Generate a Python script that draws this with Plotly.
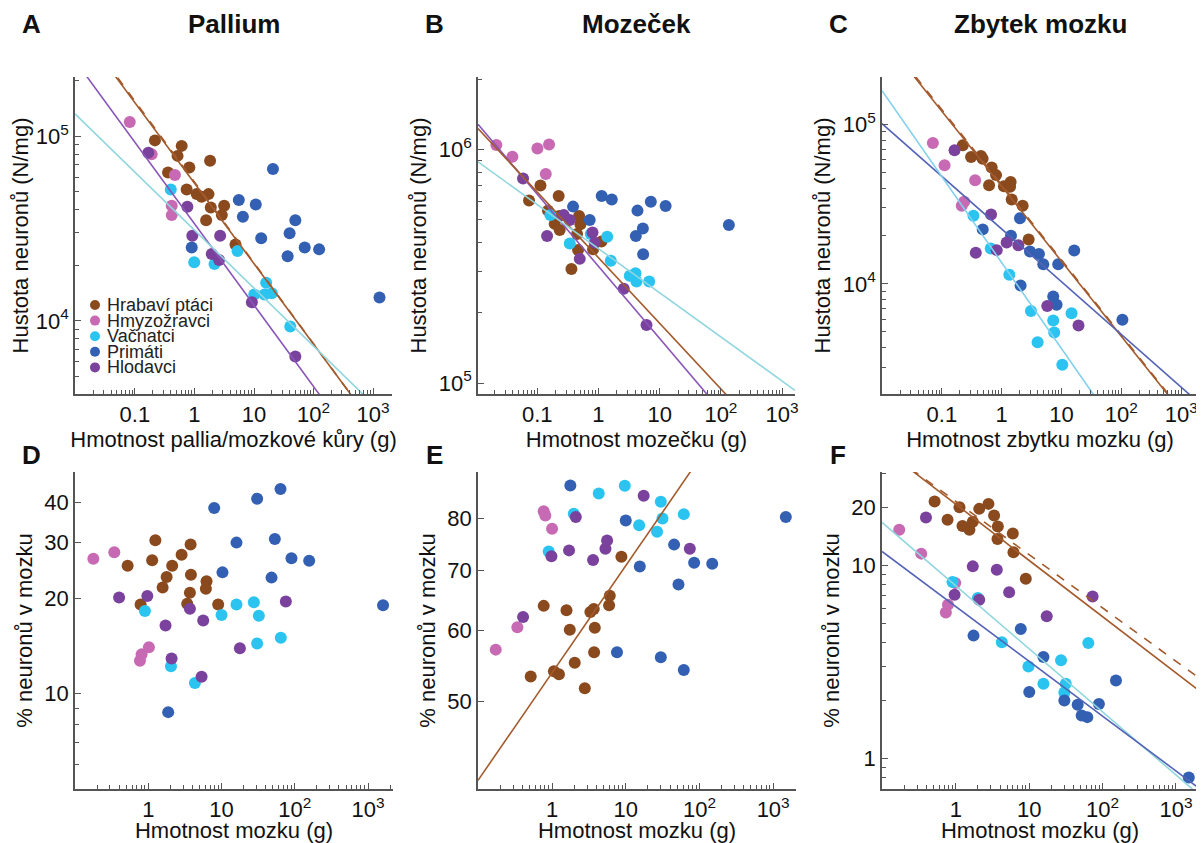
import plotly.graph_objects as go

# The page adds an 8px body margin, so the figure is drawn 8px smaller and all
# reference pixel positions are shifted by that offset.
PAGE_W, PAGE_H, OFFSET = 1204, 843, 8
W, H = PAGE_W - OFFSET, PAGE_H - OFFSET
FONT = "Liberation Sans, Arial, sans-serif"
INK = "#111111"
AXIS = "#555555"

GROUPS = ["Hrabaví ptáci", "Hmyzožravci", "Vačnatci", "Primáti", "Hlodavci"]
DOT = {
    "Hrabaví ptáci": "#8a4a1e",
    "Hmyzožravci": "#c76ab3",
    "Vačnatci": "#2bc4f0",
    "Primáti": "#3360b2",
    "Hlodavci": "#7a429c",
}
FIT_COLOR = {
    "Hrabaví ptáci": "#a35a2c",
    "Hlodavci": "#8a55b8",
    "Vačnatci": "#8fd6de",
    "Vačnatci C": "#82d0ee",
    "Primáti": "#5463b6",
}

# ---- A: pallium mass (g) vs neuron density (N/mg)
A_GALLI_X = [0.217, 0.61, 0.52, 0.82, 1.83, 0.36, 0.74, 1.09, 1.32, 1.72, 1.88, 3.15, 2.88, 1.57, 4.89]
A_GALLI_Y = [95000, 88700, 78300, 67800, 73600, 63700, 51500, 48600, 47000, 48600, 41100, 42000, 37400, 35100, 25900]
A_INSECT_X = [0.082, 0.191, 0.47, 0.415, 0.415]
A_INSECT_Y = [119500, 80000, 61600, 42000, 37400]
A_MARSUP_X = [0.40, 5.28, 0.99, 2.17, 16.0, 10.1, 15.0, 19.9, 40.6]
A_MARSUP_Y = [51500, 23900, 20800, 20300, 16100, 13900, 13900, 14100, 9320]
A_PRIM_X = [20.8, 5.56, 10.7, 6.5, 49.4, 39.6, 13.2, 71, 124, 36.7, 0.90, 1280]
A_PRIM_Y = [66400, 45100, 42700, 36600, 35100, 29800, 28000, 25000, 24400, 22400, 25000, 13400]
A_ROD_X = [0.168, 0.76, 0.92, 2.70, 1.95, 2.59, 9.2, 49.4]
A_ROD_Y = [81300, 41500, 28900, 28900, 23000, 21400, 12600, 6410]
# power-law fits: (group, coefficient, exponent, dashed)
A_FITS = [("Hrabaví ptáci", 56500, -0.438, True), ("Hrabaví ptáci", 55700, -0.436, False),
          ("Hlodavci", 33600, -0.441, False), ("Vačnatci", 31000, -0.314, False)]

# ---- B: cerebellum
B_GALLI_X = [0.0735, 0.113, 0.224, 0.150, 0.193, 0.233, 0.228, 0.483, 0.508, 0.448, 0.465, 0.362, 0.818, 1.12]
B_GALLI_Y = [604e3, 700e3, 632e3, 547e3, 480e3, 452e3, 519e3, 519e3, 478e3, 434e3, 371e3, 308e3, 374e3, 403e3]
B_INSECT_X = [0.0215, 0.0393, 0.1007, 0.156, 0.138]
B_INSECT_Y = [1.044e6, 0.931e6, 1.01e6, 1.05e6, 0.785e6]
B_MARSUP_X = [0.164, 0.34, 0.75, 1.39, 1.59, 3.25, 4.03, 4.18, 6.74]
B_MARSUP_Y = [524e3, 396e3, 434e3, 423e3, 334e3, 288e3, 295e3, 272e3, 272e3]
B_PRIM_X = [0.385, 0.72, 1.13, 1.65, 7.17, 12.5, 4.34, 5.31, 4.08, 5.37, 135]
B_PRIM_Y = [569e3, 499e3, 632e3, 611e3, 597e3, 572e3, 547e3, 459e3, 426e3, 356e3, 475e3]
B_ROD_X = [0.0587, 0.271, 0.340, 0.145, 0.495, 0.80, 0.87, 2.59, 6.1]
B_ROD_Y = [751e3, 524e3, 499e3, 426e3, 340e3, 441e3, 399e3, 253e3, 177e3]
B_FITS = [("Hlodavci", 316000, -0.309, False), ("Hrabaví ptáci", 344000, -0.281, False),
          ("Vačnatci", 376000, -0.189, False)]

# ---- C: rest of brain
C_GALLI_X = [0.224, 0.308, 0.45, 0.48, 0.68, 0.805, 0.615, 1.09, 1.41, 1.38, 1.47, 2.24, 2.82]
C_GALLI_Y = [74300, 62700, 63500, 61000, 53800, 48200, 41700, 41100, 43700, 40700, 33900, 31000, 19000]
C_INSECT_X = [0.0708, 0.111, 0.36, 0.236, 0.215]
C_INSECT_Y = [76800, 55600, 44800, 32800, 31000]
C_MARSUP_X = [0.337, 0.656, 1.34, 3.08, 7.26, 7.55, 14.7, 3.98, 10.3]
C_MARSUP_Y = [26800, 16700, 11400, 6770, 5890, 4950, 6540, 4300, 3110]
C_PRIM_X = [0.482, 2.02, 1.43, 2.97, 4.19, 4.95, 8.8, 16.3, 2.07, 7.26, 8.26, 104]
C_PRIM_Y = [22000, 25800, 20100, 16000, 15400, 13300, 13300, 16200, 9770, 8340, 7390, 5960]
C_ROD_X = [0.163, 0.664, 0.369, 0.826, 1.21, 1.90, 5.77, 19.2]
C_ROD_Y = [69000, 27300, 15700, 16300, 18200, 17500, 7280, 5480]
C_FITS = [("Hrabaví ptáci", 41900, -0.472, True), ("Hrabaví ptáci", 41000, -0.471, False),
          ("Primáti", 22100, -0.331, False), ("Vačnatci C", 13600, -0.540, False)]

# ---- D: brain mass vs % neurons in pallium
D_GALLI_X = [0.523, 1.13, 1.25, 2.12, 2.85, 3.78, 1.78, 1.57, 3.82, 3.70, 6.24, 6.11, 0.786, 3.4, 9.0]
D_GALLI_Y = [25.3, 26.3, 30.4, 25.3, 27.4, 29.5, 23.3, 21.6, 23.7, 20.8, 22.6, 21.4, 19.1, 19.2, 19.1]
D_INSECT_X = [0.178, 0.344, 1.02, 0.811, 0.77]
D_INSECT_Y = [26.6, 27.9, 14.0, 13.3, 12.7]
D_MARSUP_X = [0.90, 2.04, 4.33, 10, 16.0, 27.6, 32.3, 30.6, 64.4]
D_MARSUP_Y = [18.2, 12.2, 10.8, 17.7, 19.1, 19.4, 17.6, 14.4, 15.0]
D_PRIM_X = [7.94, 30.6, 63.8, 16.0, 53.4, 90, 157, 10.3, 48.1, 1.87, 1600]
D_PRIM_Y = [38.4, 41.1, 44.1, 29.9, 30.7, 26.7, 26.2, 24.1, 23.2, 8.75, 19.0]
D_ROD_X = [0.40, 0.97, 3.7, 1.72, 5.62, 2.08, 5.34, 17.8, 75.4]
D_ROD_Y = [20.1, 20.3, 18.5, 16.4, 17.0, 12.9, 11.3, 13.9, 19.5]
D_FITS = []

# ---- E: brain mass vs % neurons in cerebellum
E_GALLI_X = [0.77, 1.57, 1.74, 3.31, 3.68, 3.8, 6.07, 5.94, 8.73, 3.72, 2.03, 1.06, 1.24, 0.513, 2.78]
E_GALLI_Y = [63.9, 63.2, 60.1, 62.9, 63.4, 60.4, 65.6, 64.0, 72.5, 56.7, 55.2, 54.0, 53.6, 53.3, 51.7]
E_INSECT_X = [0.172, 0.338, 0.77, 0.81, 1.0]
E_INSECT_Y = [57.1, 60.5, 81.5, 80.6, 77.9]
E_MARSUP_X = [0.90, 1.97, 4.3, 9.7, 15.2, 26.6, 29.9, 31.5, 61.3]
E_MARSUP_Y = [73.5, 81.0, 85.3, 87.0, 78.6, 77.3, 83.5, 80.0, 80.9]
E_PRIM_X = [1.77, 10.0, 15.5, 45.3, 84.7, 149, 51.9, 7.6, 29.9, 61.3, 1486]
E_PRIM_Y = [87.1, 79.6, 70.7, 74.8, 71.4, 71.2, 67.5, 56.7, 56.0, 54.2, 80.3]
E_ROD_X = [0.404, 0.98, 1.70, 2.10, 3.6, 5.3, 5.58, 17.5, 74]
E_ROD_Y = [62.1, 72.6, 73.7, 80.3, 71.9, 74.0, 75.6, 84.8, 74.0]
E_FITS = [("Hrabaví ptáci", 53.8, 0.1196, False)]

# ---- F: brain mass vs % neurons in rest of brain
F_GALLI_X = [0.513, 0.77, 1.12, 1.23, 1.53, 1.70, 2.08, 2.78, 3.32, 3.73, 3.69, 5.97, 6.09, 8.97]
F_GALLI_Y = [21.4, 17.2, 20.0, 16.0, 15.3, 16.8, 19.6, 20.8, 18.1, 15.9, 13.7, 14.6, 11.7, 8.53]
F_INSECT_X = [0.169, 0.337, 0.98, 0.73, 0.78]
F_INSECT_Y = [15.3, 11.5, 8.11, 5.71, 6.26]
F_MARSUP_X = [0.90, 1.99, 4.23, 9.75, 15.6, 27.1, 31.4, 30.1, 63.8]
F_MARSUP_Y = [8.20, 6.78, 4.00, 3.00, 2.44, 3.23, 2.44, 2.20, 3.97]
F_PRIM_X = [1.74, 7.66, 15.6, 10.0, 30.1, 45.7, 51.8, 61.8, 89, 152, 1495]
F_PRIM_Y = [4.33, 4.69, 3.36, 2.21, 2.00, 1.90, 1.67, 1.64, 1.92, 2.54, 0.80]
F_ROD_X = [0.391, 1.70, 3.61, 0.96, 2.08, 5.32, 17.3, 73]
F_ROD_Y = [17.7, 9.88, 9.50, 7.05, 6.64, 7.25, 5.45, 6.91]
F_FITS = [("Hrabaví ptáci", 21.4, -0.2755, True), ("Hrabaví ptáci", 20.7, -0.291, False),
          ("Vačnatci", 7.83, -0.326, False), ("Primáti", 6.12, -0.2835, False)]

X_TOP_VALS = [0.1, 1, 10, 100, 1000]
X_TOP_TEXT = ["0.1", "1", "10", "10<sup>2</sup>", "10<sup>3</sup>"]
X_BOT_VALS = [1, 10, 100, 1000]
X_BOT_TEXT = ["1", "10", "10<sup>2</sup>", "10<sup>3</sup>"]

DECADE_MINORS = [m * 10.0 ** e for e in range(-3, 7) for m in range(2, 10)]


def fx(px):
    return (px - OFFSET) / W


def fy(py):
    return 1 - (py - OFFSET) / H


PANELS = [
    dict(letter="A", title="Pallium", dom=(75, 392, 77, 394), xr=(-2.006, 3.317), yr=(3.604, 5.321),
         xt=(X_TOP_VALS, X_TOP_TEXT), yt=([1e4, 1e5], ["10<sup>4</sup>", "10<sup>5</sup>"]),
         yminor=DECADE_MINORS, xtitle="Hmotnost pallia/mozkové kůry (g)", ytitle="Hustota neuronů (N/mg)",
         data=[(A_GALLI_X, A_GALLI_Y), (A_INSECT_X, A_INSECT_Y), (A_MARSUP_X, A_MARSUP_Y),
               (A_PRIM_X, A_PRIM_Y), (A_ROD_X, A_ROD_Y)], fits=A_FITS),
    dict(letter="B", title="Mozeček", dom=(478, 795, 77, 394), xr=(-1.967, 3.21), yr=(4.953, 6.31),
         xt=(X_TOP_VALS, X_TOP_TEXT), yt=([1e5, 1e6], ["10<sup>5</sup>", "10<sup>6</sup>"]),
         yminor=DECADE_MINORS, xtitle="Hmotnost mozečku (g)", ytitle="Hustota neuronů (N/mg)",
         data=[(B_GALLI_X, B_GALLI_Y), (B_INSECT_X, B_INSECT_Y), (B_MARSUP_X, B_MARSUP_Y),
               (B_PRIM_X, B_PRIM_Y), (B_ROD_X, B_ROD_Y)], fits=B_FITS),
    dict(letter="C", title="Zbytek mozku", dom=(882, 1198, 77, 394), xr=(-2.0, 3.28), yr=(3.309, 5.299),
         xt=(X_TOP_VALS, X_TOP_TEXT), yt=([1e4, 1e5], ["10<sup>4</sup>", "10<sup>5</sup>"]),
         yminor=DECADE_MINORS, xtitle="Hmotnost zbytku mozku (g)", ytitle="Hustota neuronů (N/mg)",
         data=[(C_GALLI_X, C_GALLI_Y), (C_INSECT_X, C_INSECT_Y), (C_MARSUP_X, C_MARSUP_Y),
               (C_PRIM_X, C_PRIM_Y), (C_ROD_X, C_ROD_Y)], fits=C_FITS),
    dict(letter="D", title="", dom=(75, 393, 472, 789), xr=(-1.0, 3.34), yr=(0.700, 1.698),
         xt=(X_BOT_VALS, X_BOT_TEXT), yt=([10, 20, 30, 40], ["10", "20", "30", "40"]),
         yminor=[5, 6, 7, 8, 9, 50], xtitle="Hmotnost mozku (g)", ytitle="% neuronů v mozku",
         data=[(D_GALLI_X, D_GALLI_Y), (D_INSECT_X, D_INSECT_Y), (D_MARSUP_X, D_MARSUP_Y),
               (D_PRIM_X, D_PRIM_Y), (D_ROD_X, D_ROD_Y)], fits=D_FITS),
    dict(letter="E", title="", dom=(478, 796, 472, 789), xr=(-1.005, 3.31), yr=(1.601, 1.955),
         xt=(X_BOT_VALS, X_BOT_TEXT), yt=([50, 60, 70, 80], ["50", "60", "70", "80"]),
         yminor=[], xtitle="Hmotnost mozku (g)", ytitle="% neuronů v mozku",
         data=[(E_GALLI_X, E_GALLI_Y), (E_INSECT_X, E_INSECT_Y), (E_MARSUP_X, E_MARSUP_Y),
               (E_PRIM_X, E_PRIM_Y), (E_ROD_X, E_ROD_Y)], fits=E_FITS),
    dict(letter="F", title="", dom=(882, 1198, 472, 789), xr=(-1.007, 3.30), yr=(-0.157, 1.483),
         xt=(X_BOT_VALS, X_BOT_TEXT), yt=([1, 10, 20], ["1", "10", "20"]),
         yminor=[0.7, 0.8, 0.9, 2, 3, 4, 5, 6, 7, 8, 9, 30], xtitle="Hmotnost mozku (g)",
         ytitle="% neuronů v mozku",
         data=[(F_GALLI_X, F_GALLI_Y), (F_INSECT_X, F_INSECT_Y), (F_MARSUP_X, F_MARSUP_Y),
               (F_PRIM_X, F_PRIM_Y), (F_ROD_X, F_ROD_Y)], fits=F_FITS),
]

fig = go.Figure()
layout = {}
annotations = []

for i, p in enumerate(PANELS, start=1):
    xa, ya = f"x{i}", f"y{i}"
    x0, x1, ytop, ybot = p["dom"]
    for group, (xs, ys) in zip(GROUPS, p["data"]):
        fig.add_trace(go.Scatter(
            x=xs, y=ys, xaxis=xa, yaxis=ya, mode="markers", name=group, showlegend=False,
            marker=dict(size=12, color=DOT[group], line=dict(width=0)),
        ))
    for group, coef, expo, dashed in p["fits"]:
        xs = [10 ** p["xr"][0], 10 ** p["xr"][1]]
        fig.add_trace(go.Scatter(
            x=xs, y=[coef * v ** expo for v in xs], xaxis=xa, yaxis=ya, mode="lines",
            showlegend=False, hoverinfo="skip",
            line=dict(color=FIT_COLOR[group], width=1.6, dash="dash" if dashed else None),
        ))

    common = dict(
        type="log", showline=True, linecolor=AXIS, linewidth=1.5, ticks="inside", ticklen=6,
        tickcolor=AXIS, tickwidth=1.2, showgrid=False, zeroline=False, automargin=False,
        tickfont=dict(size=22, color=INK, family=FONT),
    )
    layout["xaxis" if i == 1 else f"xaxis{i}"] = dict(
        common, domain=[fx(x0), fx(x1)], range=list(p["xr"]), anchor=ya,
        tickmode="array", tickvals=p["xt"][0], ticktext=p["xt"][1],
        minor=dict(tickmode="array", tickvals=DECADE_MINORS, ticks="inside", ticklen=4,
                   tickcolor=AXIS, tickwidth=1, showgrid=False),
        title=dict(text=p["xtitle"], font=dict(size=22, color=INK, family=FONT), standoff=0),
    )
    layout["yaxis" if i == 1 else f"yaxis{i}"] = dict(
        common, domain=[fy(ybot), fy(ytop)], range=list(p["yr"]), anchor=xa,
        tickmode="array", tickvals=p["yt"][0], ticktext=p["yt"][1],
        minor=dict(tickmode="array", tickvals=p["yminor"], ticks="inside", ticklen=4,
                   tickcolor=AXIS, tickwidth=1, showgrid=False),
        title=dict(text=p["ytitle"], font=dict(size=22, color=INK, family=FONT), standoff=6),
    )

    row_mid = 24 if i <= 3 else 455
    annotations.append(dict(x=fx(x0 - 44), y=fy(row_mid), xref="paper", yref="paper",
                            xanchor="center", yanchor="middle",
                            text=f"<b>{p['letter']}</b>", showarrow=False,
                            font=dict(size=26, color=INK, family=FONT)))
    if p["title"]:
        annotations.append(dict(x=fx((x0 + x1) / 2), y=fy(row_mid), xref="paper", yref="paper",
                                xanchor="center", yanchor="middle",
                                text=f"<b>{p['title']}</b>", showarrow=False,
                                font=dict(size=26, color=INK, family=FONT)))

# compact legend inside panel A
shapes = []
for k, group in enumerate(GROUPS):
    cy = 305 + k * 15.6
    shapes.append(dict(type="circle", xref="paper", yref="paper", x0=fx(90), x1=fx(100),
                       y0=fy(cy + 5), y1=fy(cy - 5), fillcolor=DOT[group], line=dict(width=0)))
    annotations.append(dict(x=fx(105), y=fy(cy), xref="paper", yref="paper", text=group,
                            showarrow=False, xanchor="left", yanchor="middle",
                            font=dict(size=18, color="#222222", family=FONT)))

fig.update_layout(
    width=W, height=H, margin=dict(l=0, r=0, t=0, b=0),
    paper_bgcolor="white", plot_bgcolor="white",
    font=dict(family=FONT, color=INK), showlegend=False,
    annotations=annotations, shapes=shapes, **layout,
)

fig.write_html("out.html")
